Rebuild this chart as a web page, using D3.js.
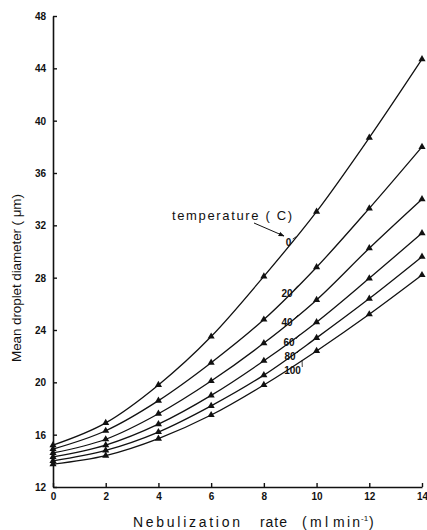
<!DOCTYPE html>
<html>
<head>
<meta charset="utf-8">
<script src="https://cdn.jsdelivr.net/npm/d3@7"></script>
<style>
body { margin: 0; background: #fff; }
text { font-family: "Liberation Sans", Arial, sans-serif; fill: #111; }
</style>
</head>
<body>
<div id="chart"></div>
<script>
// nebulization rate (ml/min) and mean droplet diameter (um) per temperature
var rates = [0, 2, 4, 6, 8, 10, 12, 14];
var temps = ["0", "20", "40", "60", "80", "100"];
var d0   = [15.2, 16.9, 19.8, 23.5, 28.1, 33.05, 38.7, 44.7];
var d20  = [14.9, 16.3, 18.6, 21.5, 24.8, 28.8, 33.3, 38.0];
var d40  = [14.6, 15.65, 17.6, 20.1, 23.0, 26.3, 30.25, 34.0];
var d60  = [14.3, 15.2, 16.8, 19.0, 21.65, 24.6, 27.95, 31.4];
var d80  = [14.0, 14.8, 16.2, 18.2, 20.55, 23.4, 26.4, 29.6];
var d100 = [13.75, 14.4, 15.7, 17.5, 19.8, 22.4, 25.2, 28.2];
var series = [d0, d20, d40, d60, d80, d100];
var xTicks = [0, 2, 4, 6, 8, 10, 12, 14];
var yTicks = [12, 16, 20, 24, 28, 32, 36, 40, 44, 48];

var w = 427, h = 530;
var svg = d3.select("#chart").append("svg")
	.attr("width", w)
	.attr("height", h);

var x = d3.scaleLinear().domain([0, 14]).range([53, 422]);
var y = d3.scaleLinear().domain([12, 48]).range([487, 16]);

// axes, ticks pointing inward
var xAxis = svg.append("g")
	.attr("transform", "translate(0,487)")
	.call(d3.axisBottom(x).tickValues(xTicks).tickSize(-4).tickPadding(6).tickSizeOuter(0));
var yAxis = svg.append("g")
	.attr("transform", "translate(53,0)")
	.call(d3.axisLeft(y).tickValues(yTicks).tickSize(-4).tickPadding(7).tickSizeOuter(0));

[xAxis, yAxis].forEach(function(a) {
	a.select(".domain").attr("stroke", "#111").attr("stroke-width", 1.6);
	a.selectAll(".tick line").attr("stroke", "#111").attr("stroke-width", 1.4);
	a.selectAll(".tick text")
		.style("font-family", "'Liberation Sans', Arial, sans-serif")
		.style("font-size", "10px")
		.style("font-weight", "bold")
		.attr("fill", "#111");
});
yAxis.selectAll(".tick text").attr("dy", "0.35em");

// curves
var line = d3.line()
	.x(function(d, i) { return x(rates[i]); })
	.y(function(d) { return y(d); })
	.curve(d3.curveMonotoneX);

var tri = d3.symbol().type(d3.symbolTriangle).size(22);

series.forEach(function(s, k) {
	svg.append("path")
		.attr("d", line(s))
		.attr("fill", "none")
		.attr("stroke", "#111")
		.attr("stroke-width", 1.3);
	svg.selectAll(".pt" + k)
		.data(s)
		.enter().append("path")
		.attr("class", "pt" + k)
		.attr("d", tri)
		.attr("fill", "#111")
		.attr("transform", function(d, i) { return "translate(" + x(rates[i]) + "," + y(d) + ")"; });
});

// series labels with tiny leader strokes
var labelPos = [[288.5, 246], [287, 297], [287, 326], [289, 346], [290, 360], [292.5, 374]];
var leadX = [9.22, 9.3, 9.3, 9.35, 9.4, 9.45];
function interp(s, xv) {
	var i = Math.min(Math.floor(xv / 2), rates.length - 2);
	var t = (xv - rates[i]) / 2;
	return s[i] + (s[i + 1] - s[i]) * t;
}
series.forEach(function(s, k) {
	var t = svg.append("text")
		.attr("x", labelPos[k][0])
		.attr("y", labelPos[k][1])
		.attr("text-anchor", "middle")
		.style("font-size", "10px")
		.style("font-weight", "bold")
		.text(temps[k]);
	var bw = t.node().getBBox();
	svg.append("line")
		.attr("x1", bw.x + bw.width + 1)
		.attr("y1", bw.y + 2)
		.attr("x2", x(leadX[k]))
		.attr("y2", y(interp(s, leadX[k])))
		.attr("stroke", "#111")
		.attr("stroke-width", 0.8);
});

// legend title and arrow
svg.append("defs").append("marker")
	.attr("id", "arrow")
	.attr("viewBox", "0 0 10 10")
	.attr("refX", 9).attr("refY", 5)
	.attr("markerWidth", 6).attr("markerHeight", 6)
	.attr("orient", "auto")
	.append("path").attr("d", "M0,1 L10,5 L0,9 z").attr("fill", "#111");

svg.append("text")
	.attr("x", 172)
	.attr("y", 220)
	.attr("textLength", 120)
	.attr("lengthAdjust", "spacing")
	.style("font-size", "13px")
	.text("temperature ( C)");
svg.append("line")
	.attr("x1", 254).attr("y1", 223)
	.attr("x2", 284).attr("y2", 236)
	.attr("stroke", "#111")
	.attr("stroke-width", 1)
	.attr("marker-end", "url(#arrow)");

// axis titles
svg.append("text")
	.attr("transform", "translate(21,278) rotate(-90)")
	.attr("text-anchor", "middle")
	.attr("textLength", 168)
	.attr("lengthAdjust", "spacing")
	.style("font-size", "13.5px")
	.text("Mean  droplet  diameter  ( \u03bcm)");

// x title, words placed as in the original wide-spaced lettering
var xWords = ["Nebulization", "rate", "(ml", "min"];
var xWordX = [133, 260, 302, 333];
var xWordW = [107, 27, 26, 27];
xWords.forEach(function(wd, i) {
	svg.append("text")
		.attr("x", xWordX[i])
		.attr("y", 527)
		.attr("textLength", xWordW[i])
		.attr("lengthAdjust", "spacing")
		.style("font-size", "14px")
		.text(wd);
});
svg.append("text").attr("x", 361).attr("y", 521).style("font-size", "8px").text("-1");
svg.append("text").attr("x", 369).attr("y", 527).style("font-size", "14px").text(")");
</script>
</body>
</html>
